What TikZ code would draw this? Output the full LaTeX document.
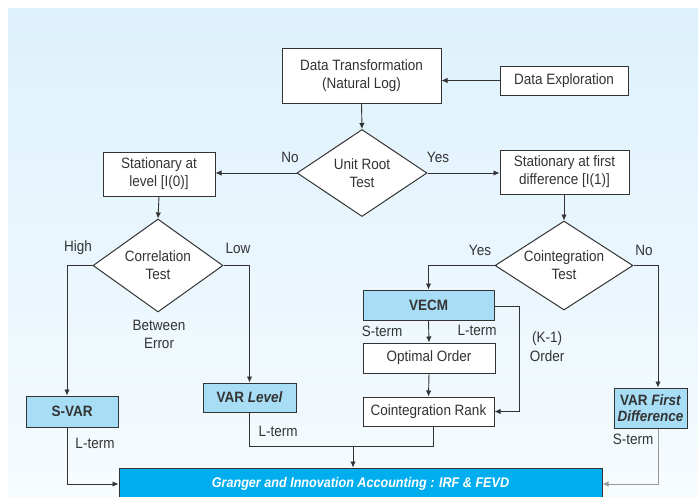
\documentclass[tikz,border=0pt]{standalone}
\usepackage{fontspec}
\setmainfont{Liberation Sans}[FakeStretch=0.9]
\usetikzlibrary{shapes.geometric,calc,arrows.meta}
\definecolor{bgtop}{HTML}{DDF1FC}
\definecolor{bgbot}{HTML}{F6FBFE}
\definecolor{boxblue}{HTML}{A8DDF6}
\definecolor{grblue}{HTML}{00AEEF}
\definecolor{ln}{HTML}{333333}
\begin{document}
\begin{tikzpicture}[x=1pt,y=-1pt,
  every node/.style={font=\fontsize{15}{18}\selectfont, text=ln},
  wbox/.style={draw=ln, line width=1pt, fill=white, rectangle, inner sep=0pt, align=center},
  bbox/.style={draw=ln, line width=1pt, fill=boxblue, rectangle, inner sep=0pt, align=center, font=\fontsize{15}{17}\selectfont\bfseries},
  dmd/.style={draw=ln, line width=1pt, fill=white, diamond, aspect=1.5, inner sep=0pt, align=center},
  arr/.style={draw=ln, line width=0.9pt, -{Latex[length=6pt,width=5.5pt]}},
  lin/.style={draw=ln, line width=0.9pt},
  lbl/.style={align=center}]
\useasboundingbox (0,0) rectangle (698,496);
\shade[top color=bgtop, bottom color=bgbot] (8,8) rectangle (698,496);

% nodes
\node[wbox, minimum width=159pt, minimum height=55pt] (dt) at (361.5,75.5) {Data Transformation\\(Natural Log)};
\node[wbox, minimum width=128pt, minimum height=29pt] (de) at (564,80.5) {Data Exploration};
\node[dmd, minimum width=130pt, minimum height=87pt] (ur) at (362,173) {Unit Root\\Test};
\node[wbox, minimum width=112pt, minimum height=44pt] (sl) at (159,174) {Stationary at\\level [I(0)]};
\node[wbox, minimum width=129pt, minimum height=44pt] (sf) at (564.5,172) {Stationary at first\\difference [I(1)]};
\node[dmd, minimum width=130pt, minimum height=93pt] (ct) at (158,265.5) {Correlation\\Test};
\node[dmd, minimum width=138pt, minimum height=89pt] (co) at (564,265.5) {Cointegration\\Test};
\node[bbox, minimum width=92pt, minimum height=31pt] (svar) at (72,411.5) {S-VAR};
\node[bbox, minimum width=93pt, minimum height=29pt] (varl) at (249.5,397.5) {VAR \textit{Level}};
\node[bbox, minimum width=131pt, minimum height=30pt] (vecm) at (428.5,305) {VECM};
\node[wbox, minimum width=132pt, minimum height=30pt] (oo) at (429,358) {Optimal Order};
\node[wbox, minimum width=131pt, minimum height=29pt] (cr) at (428.5,411.5) {Cointegration Rank};
\node[bbox, minimum width=73pt, minimum height=40pt, font=\fontsize{15}{16}\selectfont\bfseries] (vfd) at (650.5,408) {VAR \textit{First}\\\textit{Difference}};
\node[draw=ln, line width=1pt, fill=grblue, rectangle, inner sep=0pt, minimum width=483pt, minimum height=32pt, text=white, font=\fontsize{14}{16}\selectfont\bfseries\itshape] (gr) at (360.5,484) {Granger and Innovation Accounting : IRF \& FEVD};

% labels
\node[lbl] (lno) at (290,157) {No};
\node[lbl] (lyes) at (438,157) {Yes};
\node[lbl] (lhigh) at (78,248) {High};
\node[lbl] (llow) at (238,248) {Low};
\node[lbl] (lbe) at (159,334) {Between\\Error};
\node[lbl] (lyes2) at (480,250) {Yes};
\node[lbl] (lno2) at (644,250) {No};
\node[lbl] (lst1) at (382,331) {S-term};
\node[lbl] (llt1) at (477,330) {L-term};
\node[lbl, font=\fontsize{15}{19}\selectfont] (lko) at (547,347) {(K-1)\\Order};
\node[lbl] (llt2) at (95,443) {L-term};
\node[lbl] (llt3) at (278,431) {L-term};
\node[lbl] (lst2) at (633,439) {S-term};

% helper coordinates
\coordinate (hL) at (67,0);
\coordinate (hR) at (658,0);
\coordinate (mj) at (353,446);
\coordinate (crj) at (433,446);

% connectors
\draw[arr] (de.west) -- (de.west -| dt.east);
\draw[arr] (dt.south) -- (ur.north);
\draw[arr] (ur.west) -- (ur.west -| sl.east);
\draw[arr] (ur.east) -- (ur.east -| sf.west);
\draw[arr] (sl.south) -- (ct.north);
\draw[arr] (co.north |- sf.south) -- (co.north);
\draw[arr] (ct.west) -| (svar.north -| hL);
\draw[arr] (ct.east) -| (varl.north);
\draw[arr] (co.west) -| (vecm.north);
\draw[arr] (co.east) -| (vfd.north -| hR);
\draw[arr] (vecm.south) -- (oo.north);
\draw[arr] (oo.south) -- (cr.north);
\draw[arr] ([yshift=-1pt]vecm.east) -- ++(25,0) |- (cr.east);
\draw[arr] (svar.south -| hL) |- (gr.west);
\draw[arr, draw=gray!80] (vfd.south -| hR) |- (gr.east);
\draw[lin] (varl.south) |- (crj) -- (crj |- cr.south);
\draw[arr] (mj) -- (mj |- gr.north);
\end{tikzpicture}
\end{document}
